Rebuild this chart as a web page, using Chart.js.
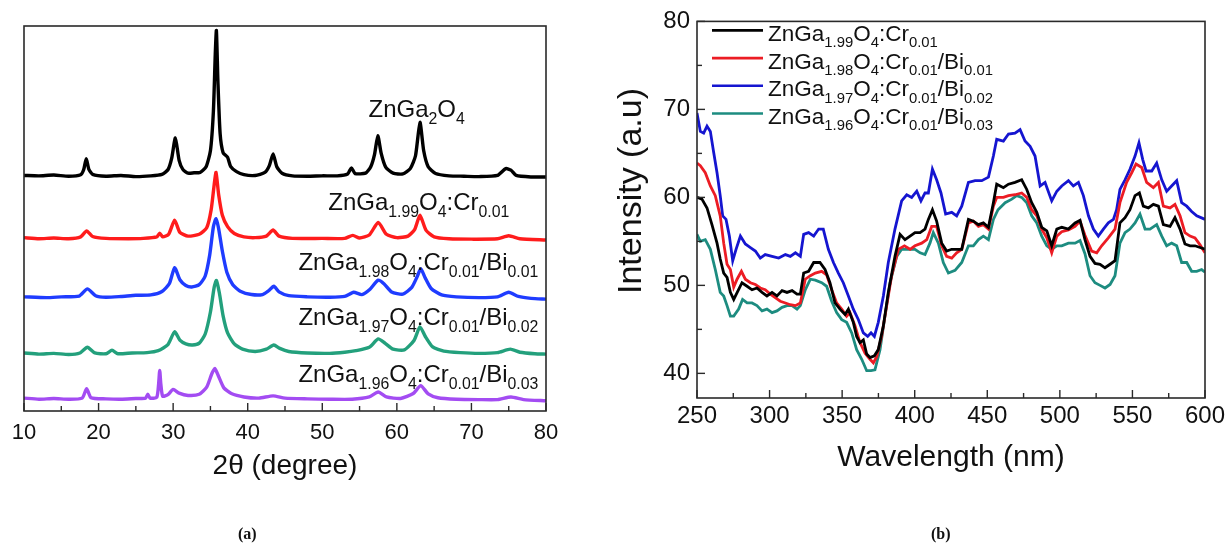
<!DOCTYPE html>
<html>
<head>
<meta charset="utf-8">
<script src="https://cdn.jsdelivr.net/npm/chart.js@4.4.1/dist/chart.umd.min.js"></script>
<style>
  body { margin: 0; background: #fff; }
  #wrap { position: relative; width: 1231px; height: 545px; overflow: hidden; }
  canvas { position: absolute; top: 0; }
  .cap { position: absolute; top: 525px; font: bold 16px "Liberation Serif", "Times New Roman", serif; color: #111; }
</style>
</head>
<body>
<div id="wrap">
  <canvas id="xrdChart" width="615" height="545" style="left:0"></canvas>
  <canvas id="specChart" width="616" height="545" style="left:615px"></canvas>
  <div class="cap" style="left:238px">(a)</div>
  <div class="cap" style="left:931px">(b)</div>
</div>
<script>
// ---- (a) XRD patterns: [2theta, intensity] ----
const angleTicks = [10, 20, 30, 40, 50, 60, 70, 80];
const angleMinor = [15, 25, 35, 45, 55, 65, 75];

const xrdZnGa2O4 = [[10,1.0],[12,0.9],[14,1.1],[16,0.8],[17.6,1.2],[18.0,2.5],[18.35,5.4],[18.7,2.6],[19.2,1.3],[21,0.8],[23,1.0],[25,0.7],[27,0.9],[28.5,1.3],[29.3,2.5],[29.8,5.5],[30.3,10.9],[30.8,5.0],[31.3,2.6],[32,1.6],[32.8,1.7],[33.6,1.8],[34.4,3.2],[35.0,7.5],[35.4,18],[35.65,33],[35.8,39.2],[36.0,26],[36.3,12],[36.7,7],[37.3,5.8],[37.7,3.4],[38.5,2.0],[39.5,1.2],[41,1.0],[42.3,1.8],[42.9,3.6],[43.4,6.7],[43.9,3.3],[44.6,1.6],[46,0.9],[48,0.8],[50,0.9],[52,0.9],[53.4,1.4],[53.9,3.0],[54.4,1.5],[55.8,1.6],[56.5,3.3],[57.0,6.5],[57.45,11.5],[57.9,6.8],[58.5,3.2],[59.5,1.6],[60.8,1.4],[61.8,2.8],[62.5,6.2],[63.1,15],[63.6,7.5],[64.2,3.3],[65.2,1.5],[67,0.9],[69,0.8],[71,0.7],[73.5,1.0],[74.6,2.8],[75.3,2.4],[76,1.0],[78,0.6],[80,0.6]];
const xrdCr = [[10,0.6],[12,0.3],[14,0.5],[16,0.3],[17.6,0.8],[18.4,2.4],[19.2,0.9],[21,0.4],[24,0.3],[26,0.4],[27.8,0.8],[28.2,1.8],[28.6,0.8],[29.4,1.5],[30.2,5.2],[30.9,2.0],[32,1.0],[33.5,1.5],[34.5,3.2],[35.1,8],[35.5,14.5],[35.75,17.8],[36.1,12],[36.6,6.5],[37.3,3.5],[38.2,1.7],[39.5,0.8],[41,0.6],[42.5,1.0],[43.4,2.6],[44.2,1.0],[46,0.4],[50,0.4],[53,0.4],[54.1,1.2],[55,0.5],[56.3,1.3],[57.5,4.6],[58.6,1.5],[60,0.6],[61.5,1.0],[62.4,2.8],[63.1,6.5],[63.9,2.6],[65,0.8],[67,0.3],[70,0.2],[73.5,0.3],[75,1.1],[76.5,0.3],[80,0.0]];
const xrdBi01 = [[10,1.0],[13,0.8],[15,1.0],[17.4,1.2],[18.5,3.1],[19.6,1.3],[21,0.9],[23,1.1],[25,1.4],[27,1.5],[28.5,2.4],[29.5,4.5],[30.2,8.7],[30.9,5.5],[31.7,4.0],[32.5,3.6],[33.5,4.2],[34.3,6.5],[34.9,12],[35.4,19.5],[35.75,21.6],[36.1,19],[36.6,13],[37.2,7.5],[38,4.2],[39,2.5],[40.5,1.6],[42,1.6],[42.8,2.6],[43.5,3.8],[44.2,2.3],[45.5,1.3],[48,1.0],[51,0.9],[53,1.1],[54.2,2.2],[55.3,1.6],[56.4,3.0],[57.5,5.4],[58.3,4.4],[59.3,2.3],[60.8,1.7],[62,3.5],[62.7,6.2],[63.2,8.4],[63.8,6.0],[64.6,3.2],[66,1.5],[68,1.0],[71,0.8],[73.5,1.0],[75,2.2],[76.3,1.1],[78,0.6],[80,0.4]];
const xrdBi02 = [[10,1.2],[12,0.9],[14,1.1],[16,0.8],[17.5,1.2],[18.5,2.7],[19.5,1.2],[21,1.0],[21.8,1.9],[22.6,1.0],[24.5,1.2],[26.5,1.3],[28,1.8],[29.3,3.4],[30.2,6.8],[30.9,4.6],[31.7,3.6],[32.6,3.3],[33.5,3.8],[34.3,6.2],[35.0,12],[35.5,18.5],[35.8,20.3],[36.2,17],[36.7,11],[37.3,6.5],[38.2,3.6],[39.3,2.2],[41,1.6],[42.5,2.2],[43.5,3.3],[44.3,2.4],[45.5,1.6],[48,1.2],[51,1.1],[53,1.4],[54.5,1.8],[56.3,2.7],[57.5,4.9],[58.4,3.8],[59.5,2.2],[61,2.0],[62.3,4.5],[63.1,8.1],[63.8,5.6],[64.8,2.8],[66.3,1.7],[68.5,1.3],[71,1.1],[73.5,1.3],[75.2,2.2],[76.5,1.4],[78.5,1.0],[80,0.9]];
const xrdBi03 = [[10,1.3],[12,1.0],[14,1.2],[16,1.0],[17.8,1.3],[18.4,3.8],[19,1.4],[21,1.1],[23,1.0],[25,1.2],[26.3,1.3],[26.6,2.3],[26.9,1.3],[27.8,1.5],[28.05,5],[28.2,8.6],[28.35,5],[28.6,1.8],[29.3,2.2],[30.0,3.6],[30.8,2.6],[32,2.0],[33.5,2.3],[34.5,4.2],[35.2,7.8],[35.6,9.1],[36.1,7.0],[36.8,4.0],[37.8,2.5],[39.5,1.6],[41.5,1.3],[43.4,1.9],[45,1.3],[48,1.1],[51,1.0],[54,1.0],[56.3,1.6],[57.5,2.9],[58.6,1.6],[60.5,1.2],[62.2,2.5],[63.2,4.6],[64.2,2.4],[65.5,1.4],[68,1.0],[71,0.9],[73.5,0.9],[75.3,1.6],[77,0.9],[80,0.6]];
const xrdOffsets = [60, 44, 28, 13, 1];
const xrdLabels = ['ZnGa_{2}O_{4}', 'ZnGa_{1.99}O_{4}:Cr_{0.01}', 'ZnGa_{1.98}O_{4}:Cr_{0.01}/Bi_{0.01}',
                   'ZnGa_{1.97}O_{4}:Cr_{0.01}/Bi_{0.02}', 'ZnGa_{1.96}O_{4}:Cr_{0.01}/Bi_{0.03}'];

// ---- (b) spectra: [wavelength nm, intensity] ----
const waveTicks = [250, 300, 350, 400, 450, 500, 550, 600];
const waveMinor = [275, 325, 375, 425, 475, 525, 575];
const intensityTicks = [40, 50, 60, 70, 80];
const intensityMinor = [45, 55, 65, 75];

const specCr = [[250,60.0],[253.4,59.8],[256.9,58.8],[260.3,56.9],[263.8,54.8],[266,53.0],[268.4,51.4],[270.7,50.9],[273,49.2],[275.3,48.4],[278.3,49.4],[281,50.3],[284.5,49.9],[287.9,49.5],[291.3,49.7],[294.8,49.2],[298.2,48.8],[301.7,49.2],[305.1,48.8],[308.6,49.4],[312,49.2],[315.5,49.4],[318.9,49.0],[321.2,49.0],[323.5,51.4],[326.9,51.6],[330.4,52.6],[334.7,52.6],[338.2,51.8],[341.6,50.3],[345.1,48.0],[348.5,47.3],[352,46.7],[354.3,47.3],[357.7,45.8],[360,44.2],[362.3,43.5],[364.6,43.8],[366.9,42.2],[369.2,41.8],[372.2,42.0],[374.9,42.7],[378.4,45.4],[381.8,49.2],[386.4,53.3],[389.9,55.8],[393.3,55.2],[396.8,55.6],[400.2,56.0],[403.7,56.0],[407.1,56.4],[409.4,57.5],[412.2,58.6],[415.1,57.3],[418.6,54.8],[422,53.9],[425.5,54.1],[428.9,54.1],[432.4,54.1],[437,57.5],[440.4,57.3],[443.9,56.9],[447.3,57.1],[450.8,56.6],[454.2,59.4],[456.5,61.5],[461.1,61.1],[464.6,61.5],[469.1,61.7],[473.7,62.0],[477.2,60.9],[480.6,59.4],[484.1,58.3],[487.5,56.6],[491,56.2],[494.4,54.5],[497.9,56.4],[501.3,56.6],[505.9,56.4],[510.5,57.1],[513.9,57.4],[517.3,55.2],[520.8,53.3],[524.2,52.5],[527.7,52.4],[531.1,52.0],[534.6,52.4],[538,52.8],[541.4,57.1],[544.9,57.7],[548.3,58.6],[551.8,60.2],[554.8,60.5],[557.5,59.0],[561,58.8],[564.4,59.2],[567.9,59.0],[571.3,56.9],[575.9,56.7],[579.3,57.7],[582.8,56.4],[586.2,54.7],[589.7,54.5],[593.1,54.5],[596.6,54.3],[600,54.1]];
const specBi01 = [[250,63.9],[252.3,63.6],[255.7,62.8],[259.2,61.3],[262.6,60.2],[266,57.9],[268.4,54.8],[270.7,52.4],[273,51.8],[275.3,49.8],[277.6,50.7],[280.6,51.6],[283.3,50.7],[286.8,50.3],[290.2,50.1],[293.6,49.7],[297,49.5],[300.5,49.0],[303.9,48.6],[307.4,48.2],[310.9,48.0],[314.3,47.8],[317.8,47.7],[321.2,48.0],[324.6,50.7],[328.1,51.1],[331.5,51.4],[335.9,51.6],[339.3,51.2],[342.8,49.5],[346.2,48.0],[349.7,47.3],[353.1,46.5],[355.4,46.9],[358.9,45.4],[362.3,43.5],[365.8,42.3],[369.2,41.6],[371.5,41.2],[373.8,41.9],[377.2,44.2],[380.7,47.7],[384.1,51.1],[388.7,54.1],[392.9,54.5],[396.8,54.1],[400.2,54.5],[404.8,54.8],[408.3,55.2],[411.7,56.7],[415.1,56.7],[418.6,54.5],[422,53.3],[425.5,53.1],[428.9,53.7],[432.4,54.1],[437,57.1],[440.4,57.3],[443.9,56.7],[447.3,56.9],[450.8,56.4],[454.2,59.0],[456.5,60.0],[461.1,60.0],[464.6,60.2],[469.1,60.3],[473.7,60.5],[477.2,60.0],[480.6,58.6],[484.1,57.9],[487.5,56.4],[491,55.4],[494.4,53.7],[497.9,55.6],[501.3,56.1],[505.9,56.3],[510.5,56.7],[513.9,57.3],[517.3,55.7],[521.9,53.9],[525.4,53.7],[528.8,54.5],[533.4,55.4],[538,56.4],[541.4,59.4],[546,61.7],[549.5,62.8],[552.5,63.8],[556.4,63.4],[559.8,61.7],[564.4,61.1],[567.9,61.7],[571.3,59.0],[575.9,58.8],[579.3,59.2],[582.8,57.9],[586.2,56.0],[589.7,55.6],[593.1,55.4],[596.6,54.6],[600,53.7]];
const specBi02 = [[250,69.6],[252.3,67.5],[254.6,67.3],[256.9,68.1],[259.2,67.5],[261.5,65.1],[263.8,62.8],[266,60.2],[267.7,57.9],[270,57.5],[272.3,55.6],[274.6,52.8],[276.9,54.1],[279.9,55.6],[283.3,54.7],[286.8,54.3],[290.2,53.9],[293.6,53.1],[297,53.5],[301.7,53.3],[306.3,53.1],[310.9,53.5],[314.3,53.3],[317.8,53.7],[321.2,53.3],[323.5,55.8],[326.9,56.0],[330.4,55.6],[333.8,56.4],[337,56.4],[340.5,54.1],[344,52.6],[347.4,51.4],[350.8,50.3],[354.3,48.8],[357.7,47.3],[361.2,46.1],[364.6,44.6],[367.6,44.2],[369.9,44.6],[372.2,44.2],[374.9,45.8],[378.4,48.8],[381.8,52.6],[386.4,56.4],[391,59.6],[394.5,60.3],[397.9,60],[401.4,60.7],[404.3,59.6],[407.1,60.5],[409.4,60.5],[412.2,63.2],[415.1,62],[418.1,60.5],[421.3,58.1],[425.5,58.3],[428.9,57.9],[432.4,59.0],[437,61.7],[441.6,61.9],[446.2,61.9],[450.8,62.3],[454.2,64.7],[456.5,66.6],[461.1,66.4],[464.6,67.2],[469.1,67.3],[472.6,67.7],[476,66.4],[479.5,65.8],[482.9,64.7],[486.4,61.3],[489.8,61.7],[494.4,59.6],[497.9,60.7],[501.3,61.3],[505.9,61.9],[509.3,61.3],[512.8,61.7],[516.2,60.2],[519.7,57.9],[523.1,56.4],[526.5,55.6],[530,56.4],[533.4,57.1],[536.9,57.5],[539.1,58.6],[541.4,60.9],[544.9,62.0],[548.3,63.2],[551.8,64.7],[554.5,66.2],[557.1,64.3],[559.4,63.0],[563.3,63.0],[566.7,63.9],[570.2,62.0],[573.6,60.7],[577,61.3],[580.5,61.9],[583.9,59.4],[587.4,59.0],[590.8,58.4],[594.3,57.9],[600,57.5]];
const specBi03 = [[250,55.8],[252.3,55.0],[255.7,55.2],[259.2,54.1],[262.6,51.8],[266,49.2],[268.4,48.8],[270.7,47.7],[273,46.5],[275.3,46.5],[278.7,47.3],[281.4,48.4],[284.5,48.0],[287.9,48.0],[291.3,47.7],[294.8,47.1],[298.2,47.3],[301.7,46.9],[305.1,47.1],[308.6,47.5],[312,47.7],[315.5,47.7],[318.9,47.3],[321.2,47.7],[324.6,49.5],[328.1,50.7],[331.5,50.6],[335.9,50.3],[339.3,49.9],[342.8,48.2],[346.2,46.9],[349.7,46.1],[353.1,45.8],[356.6,44.6],[360,42.7],[363.5,41.6],[366.9,40.3],[369.9,40.3],[372.6,40.4],[376.1,42.7],[379.5,46.5],[383,50.3],[387.6,53.3],[391,54.1],[395.6,54.1],[400.2,54.1],[403.7,53.7],[407.1,53.5],[410.5,54.8],[412.8,56.0],[416.3,54.8],[419.7,52.6],[423.2,51.4],[427.8,51.7],[432.4,52.6],[437,54.5],[440.4,54.5],[443.9,55.2],[447.3,55.6],[450.8,55.2],[454.2,57.5],[457.4,58.6],[462.3,59.4],[466.9,59.8],[470.3,60.2],[473.7,60.0],[477.2,59.4],[480.6,57.9],[484.1,57.1],[487.5,55.6],[491,54.5],[494.4,54.1],[497.9,54.5],[501.3,54.5],[505.9,54.8],[510.5,54.8],[513.9,55.1],[517.3,53.6],[520.8,51.1],[524.2,50.3],[527.7,50.0],[531.1,49.7],[534.6,50.1],[538,51.1],[541.4,54.8],[544.9,56.0],[548.3,56.4],[551.8,57.1],[555.2,58.1],[558.7,56.4],[562.1,56.4],[566.7,56.9],[570.2,55.6],[573.6,54.5],[577,54.8],[580.5,54.5],[583.9,52.6],[587.4,52.6],[590.8,51.6],[594.3,51.6],[597.7,51.8],[600,51.5]];
const specLabels = ['ZnGa_{1.99}O_{4}:Cr_{0.01}', 'ZnGa_{1.98}O_{4}:Cr_{0.01}/Bi_{0.01}',
                    'ZnGa_{1.97}O_{4}:Cr_{0.01}/Bi_{0.02}', 'ZnGa_{1.96}O_{4}:Cr_{0.01}/Bi_{0.03}'];

const FONT = '"Liberation Sans", Arial, sans-serif';
const xrdColors = ['#000000', '#ff1c1c', '#1f3cff', '#23a07c', '#a34cf2'];
const specColors = ['#000000', '#ec1c24', '#1515d0', '#1d8c80'];

// text with _{...} subscripts
function richParts(str) {
  const out = [];
  const re = /([^_]+)|_\{([^}]*)\}/g;
  let m;
  while ((m = re.exec(str))) {
    if (m[1]) out.push({ t: m[1], sub: false });
    else out.push({ t: m[2], sub: true });
  }
  return out;
}
function drawRich(ctx, str, x, y, size) {
  let cx = x;
  ctx.textAlign = 'left';
  ctx.textBaseline = 'alphabetic';
  richParts(str).forEach(p => {
    const fs = p.sub ? size * 0.66 : size;
    ctx.font = fs + 'px ' + FONT;
    ctx.fillText(p.t, cx, p.sub ? y + size * 0.28 : y);
    cx += ctx.measureText(p.t).width;
  });
}

// box around the plot plus inward tick marks
const framePlugin = {
  id: 'frame',
  afterDatasetsDraw(chart, args, opts) {
    const { ctx, chartArea: a, scales } = chart;
    ctx.save();
    ctx.strokeStyle = '#2a2a2a';
    ctx.lineWidth = 1.6;
    ctx.strokeRect(a.left, a.top, a.right - a.left, a.bottom - a.top);
    ctx.lineWidth = 1.4;
    const tick = (x1, y1, x2, y2) => { ctx.beginPath(); ctx.moveTo(x1, y1); ctx.lineTo(x2, y2); ctx.stroke(); };
    (opts.xMajor || []).forEach(v => { const p = scales.x.getPixelForValue(v); tick(p, a.bottom, p, a.bottom - 8); });
    (opts.xMinor || []).forEach(v => { const p = scales.x.getPixelForValue(v); tick(p, a.bottom, p, a.bottom - 5); });
    (opts.yMajor || []).forEach(v => { const p = scales.y.getPixelForValue(v); tick(a.left, p, a.left + 8, p); });
    (opts.yMinor || []).forEach(v => { const p = scales.y.getPixelForValue(v); tick(a.left, p, a.left + 5, p); });
    ctx.restore();
  }
};

// sample names next to the XRD curves
const xrdLabelPlugin = {
  id: 'xrdLabels',
  afterDatasetsDraw(chart, args, opts) {
    const { ctx, scales } = chart;
    ctx.save();
    ctx.fillStyle = '#111';
    opts.items.forEach((it, i) => {
      drawRich(ctx, xrdLabels[i], scales.x.getPixelForValue(it.x), scales.y.getPixelForValue(it.y), 24);
    });
    ctx.restore();
  }
};

// legend with subscripts, plus the rotated y title
const specLegendPlugin = {
  id: 'specLegend',
  afterDatasetsDraw(chart) {
    const { ctx, chartArea: a } = chart;
    ctx.save();
    chart.data.datasets.forEach((ds, i) => {
      const y = a.top + 9 + i * 27.7;
      ctx.strokeStyle = ds.borderColor;
      ctx.lineWidth = 2.6;
      ctx.beginPath(); ctx.moveTo(a.left + 15, y); ctx.lineTo(a.left + 66, y); ctx.stroke();
      ctx.fillStyle = '#111';
      drawRich(ctx, specLabels[i], a.left + 71, y + 10.5, 22.5);
    });
    ctx.translate(17, 191);
    ctx.rotate(-Math.PI / 2);
    ctx.font = '34px ' + FONT;
    ctx.fillStyle = '#111';
    ctx.textAlign = 'center';
    ctx.textBaseline = 'middle';
    ctx.fillText('Intensity (a.u)', 0, 0);
    ctx.restore();
  }
};

const xrdSeries = [xrdZnGa2O4, xrdCr, xrdBi01, xrdBi02, xrdBi03];
new Chart(document.getElementById('xrdChart').getContext('2d'), {
  type: 'line',
  data: {
    datasets: xrdSeries.map((s, i) => ({
      data: s.map(([x, y]) => ({ x: x, y: y + xrdOffsets[i] })),
      borderColor: xrdColors[i],
      borderWidth: 3.4,
      pointRadius: 0,
      tension: 0.2
    }))
  },
  options: {
    responsive: false,
    animation: false,
    devicePixelRatio: 1,
    layout: { padding: { left: 24, right: 69, top: 26, bottom: 0 } },
    plugins: {
      legend: { display: false },
      tooltip: { enabled: false },
      frame: { xMajor: angleTicks, xMinor: angleMinor },
      xrdLabels: {
        items: [{ x: 56.2, y: 76.4 }, { x: 50.8, y: 51.8 }, { x: 46.8, y: 36.0 }, { x: 46.8, y: 21.5 }, { x: 46.8, y: 6.6 }]
      }
    },
    scales: {
      x: {
        type: 'linear', min: 10, max: 80,
        afterBuildTicks: s => { s.ticks = angleTicks.map(v => ({ value: v })); },
        afterFit: s => { s.height = 134; },
        grid: { display: false, drawTicks: false },
        border: { display: false },
        ticks: { font: { size: 22, family: FONT }, color: '#111', padding: 9, maxRotation: 0, autoSkip: false },
        title: { display: true, text: '2θ (degree)', color: '#111', font: { size: 28, family: FONT }, padding: { top: 0, bottom: 62 } }
      },
      y: { display: false, min: -1.1, max: 100.4 }
    }
  },
  plugins: [framePlugin, xrdLabelPlugin]
});

const specSeries = [specCr, specBi01, specBi02, specBi03];
new Chart(document.getElementById('specChart').getContext('2d'), {
  type: 'line',
  data: {
    datasets: specSeries.map((s, i) => ({
      data: s.map(([x, y]) => ({ x: x, y: y })),
      borderColor: specColors[i],
      borderWidth: 2.8,
      pointRadius: 0,
      tension: 0
    }))
  },
  options: {
    responsive: false,
    animation: false,
    devicePixelRatio: 1,
    layout: { padding: { left: 0, right: 26, top: 20, bottom: 0 } },
    plugins: {
      legend: { display: false },
      tooltip: { enabled: false },
      frame: { xMajor: waveTicks, xMinor: waveMinor, yMajor: intensityTicks, yMinor: intensityMinor }
    },
    scales: {
      x: {
        type: 'linear', min: 250, max: 600,
        afterBuildTicks: s => { s.ticks = waveTicks.map(v => ({ value: v })); },
        afterFit: s => { s.height = 147; },
        grid: { display: false, drawTicks: false },
        border: { display: false },
        ticks: { font: { size: 24, family: FONT }, color: '#111', padding: 4, maxRotation: 0, autoSkip: false },
        title: { display: true, text: 'Wavelength (nm)', color: '#111', font: { size: 30, family: FONT }, padding: { top: 0, bottom: 69 } }
      },
      y: {
        min: 37.2, max: 80,
        afterBuildTicks: s => { s.ticks = intensityTicks.map(v => ({ value: v })); },
        afterFit: s => { s.width = 82; },
        grid: { display: false, drawTicks: false },
        border: { display: false },
        ticks: { font: { size: 24, family: FONT }, color: '#111', padding: 7 }
      }
    }
  },
  plugins: [framePlugin, specLegendPlugin]
});
</script>
</body>
</html>
